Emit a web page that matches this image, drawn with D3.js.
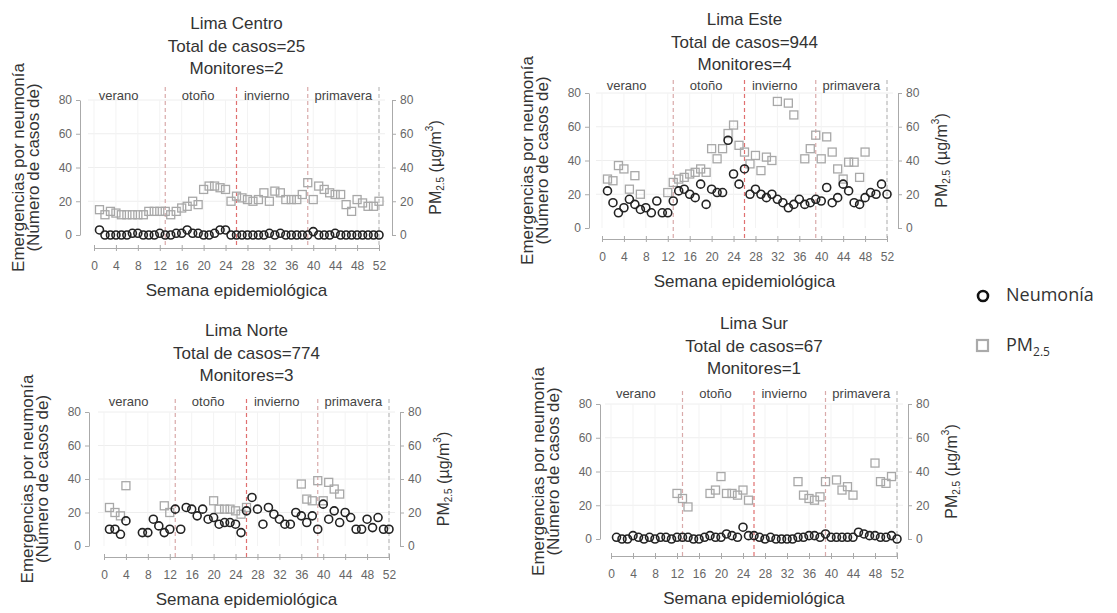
<!DOCTYPE html>
<html lang="es">
<head>
<meta charset="UTF-8">
<script src="https://cdnjs.cloudflare.com/ajax/libs/d3/7.9.0/d3.min.js"></script>
<title>Neumonía y PM2.5 en Lima</title>
<style>
    body { margin: 0; background: #fff; }
    svg { display: block; font-family: "Liberation Sans", Arial, sans-serif; }
    .tick text { fill: #666; font-size: 12px; }
    .domain, .tick line { stroke: #aaa; }
</style>
</head>
<body>
<div id="chart"></div>
<script>
const N = null;

// datos
const regions = ["Lima Centro", "Lima Este", "Lima Norte", "Lima Sur"];
const totals = [25, 944, 774, 67];
const monitors = [2, 4, 3, 1];
const weeks = d3.range(1, 53);
const xTicks = d3.range(0, 53, 4);
const yTicks = [0, 20, 40, 60, 80];
const seasons = ["verano", "otoño", "invierno", "primavera"];
const seasonLabelWeek = [4.5, 19, 31.5, 45.5];
const seasonEnds = [13, 26, 39, 52];

const centroNeumonia = [3,0,0,0,0,0,1,1,0,0, 0,1,0,0,1,1,3,1,1,0, 0,1,3,3,0,0,0,0,0,0,
    0,1,0,1,0,0,0,0,0,2, 0,0,0,1,0,0,0,0,0,0, 0,0];
const centroPM = [15,12,14,13,12,12,12,12,12,14, 14,14,14,12,14,16,17,20,18,27, 29,29,28,27,20,23,22,21,20,21,
    25,20,26,25,21,21,21,24,31,21, 29,27,25,24,24,18,14,21,19,17, 17,20];

const esteNeumonia = [22,15,9,12,17,14,11,12,9,16, 9,9,16,22,23,20,18,26,14,23, 21,21,52,32,26,35,20,23,20,18,
    20,17,15,12,14,17,14,15,17,16, 24,15,18,26,22,15,14,18,21,20, 26,20];
const estePM = [29,28,37,35,23,31,20,N,N,N, N,21,27,29,30,32,33,35,33,47, 41,47,56,61,49,45,38,43,34,42,
    40,75,N,74,67,N,41,47,55,41, 54,45,35,29,39,39,30,45,N,N, N,N];

const norteNeumonia = [10,10,7,15,N,N,8,8,16,12, 8,10,22,10,23,22,18,22,16,17, 13,14,14,13,8,21,29,22,13,23,
    19,16,13,13,20,18,14,18,10,25, 16,21,14,20,17,10,10,16,11,17, 10,10];
const nortePM = [23,20,18,36,N,N,N,N,N,N, 24,20,N,N,N,N,N,N,N,27, 22,22,22,21,19,23,N,N,N,N,
    N,N,N,N,N,37,28,27,39,27, 38,34,31,N,N,N,N,N,N,N, N,N];

const surNeumonia = [1,0,0,2,1,0,1,0,1,1, 0,1,1,1,0,0,1,2,1,1, 3,2,1,7,2,2,1,0,1,0,
    0,0,0,1,1,2,2,1,3,1, 1,1,1,1,4,3,2,2,1,1, 2,0];
const surPM = [N,N,N,N,N,N,N,N,N,N, N,27,24,19,N,N,N,27,29,37, 27,27,26,29,23,N,N,N,N,N,
    N,N,N,34,26,24,23,25,34,N, 35,29,31,26,N,N,N,45,34,33, 37,N];

const neumonia = [centroNeumonia, esteNeumonia, norteNeumonia, surNeumonia];
const pm = [centroPM, estePM, nortePM, surPM];

// posiciones de cada panel
const layout = [
    { x0: 94, x1: 379, yBottom: 235, yTop: 100, axisL: 80, axisR: 392, axisB: 248, titleY: 25, seasonY: 97 },
    { x0: 602, x1: 887, yBottom: 228, yTop: 93, axisL: 589, axisR: 898, axisB: 239, titleY: 21, seasonY: 87 },
    { x0: 104, x1: 389, yBottom: 546, yTop: 412, axisL: 89, axisR: 400, axisB: 557, titleY: 332, seasonY: 403 },
    { x0: 611, x1: 897, yBottom: 539, yTop: 404, axisL: 600, axisR: 908, axisB: 556, titleY: 325, seasonY: 395 }
];
const dashColors = ["#d9aaaa", "#e07070", "#d9aaaa", "#bbb"];

const width = 1117, height = 613;
const svg = d3.select("#chart").append("svg")
    .attr("width", width)
    .attr("height", height);

regions.forEach((name, i) => {
    const L = layout[i];
    const g = svg.append("g");
    const x = d3.scaleLinear().domain([0, 52]).range([L.x0, L.x1]);
    const y = d3.scaleLinear().domain([0, 80]).range([L.yBottom, L.yTop]);

    // grid
    g.selectAll(".hgrid").data(yTicks.slice(1)).enter().append("line")
        .attr("x1", L.x0 - 6).attr("x2", L.x1 + 6)
        .attr("y1", d => y(d)).attr("y2", d => y(d))
        .attr("stroke", "#eee");
    g.selectAll(".vgrid").data(xTicks).enter().append("line")
        .attr("x1", d => x(d)).attr("x2", d => x(d))
        .attr("y1", L.yTop).attr("y2", L.yBottom)
        .attr("stroke", "#f3f3f3");

    // title
    const title = [name, "Total de casos=" + totals[i], "Monitores=" + monitors[i]];
    g.selectAll(".title").data(title).enter().append("text")
        .attr("x", (L.x0 + L.x1) / 2)
        .attr("y", (d, j) => L.titleY + j * 22.5)
        .attr("text-anchor", "middle")
        .attr("dominant-baseline", "middle")
        .attr("font-size", 17)
        .attr("fill", "#333")
        .text(d => d);

    // season separators
    g.selectAll(".sep").data(seasonEnds).enter().append("line")
        .attr("x1", d => x(d)).attr("x2", d => x(d))
        .attr("y1", L.yTop - 13).attr("y2", L.axisB)
        .attr("stroke", (d, j) => dashColors[j])
        .attr("stroke-width", 1.2)
        .attr("stroke-dasharray", "4,3");
    g.selectAll(".season").data(seasons).enter().append("text")
        .attr("x", (d, j) => x(seasonLabelWeek[j]))
        .attr("y", L.seasonY)
        .attr("text-anchor", "middle")
        .attr("dominant-baseline", "middle")
        .attr("font-size", 13)
        .attr("fill", "#444")
        .text(d => d);

    // axes
    g.append("g")
        .attr("transform", `translate(${L.axisL},0)`)
        .call(d3.axisLeft(y).tickValues(yTicks).tickSize(4).tickSizeOuter(0).tickPadding(4));
    g.append("g")
        .attr("transform", `translate(${L.axisR},0)`)
        .call(d3.axisRight(y).tickValues(yTicks).tickSize(4).tickSizeOuter(0).tickPadding(4));
    const xa = g.append("g")
        .attr("transform", `translate(0,${L.axisB})`)
        .call(d3.axisBottom(x).tickValues(xTicks).tickSize(3).tickSizeOuter(0).tickPadding(10));
    xa.selectAll(".tick line").attr("y1", -3);

    // axis titles
    g.append("text")
        .attr("x", (L.x0 + L.x1) / 2)
        .attr("y", L.axisB + 44)
        .attr("text-anchor", "middle")
        .attr("dominant-baseline", "middle")
        .attr("font-size", 17)
        .attr("fill", "#333")
        .text("Semana epidemiológica");

    const cy = (L.yTop + L.yBottom) / 2;
    g.selectAll(".ylab").data(["Emergencias por neumonía", "(Número de casos de)"]).enter().append("text")
        .attr("transform", (d, j) => `translate(${L.axisL - 60 + j * 15},${cy}) rotate(-90)`)
        .attr("text-anchor", "middle")
        .attr("dominant-baseline", "middle")
        .attr("font-size", 17)
        .attr("fill", "#333")
        .text(d => d);

    const rl = g.append("text")
        .attr("transform", `translate(${L.axisR + 45},${cy}) rotate(-90)`)
        .attr("text-anchor", "middle")
        .attr("dominant-baseline", "middle")
        .attr("font-size", 16)
        .attr("fill", "#333");
    rl.append("tspan").text("PM");
    rl.append("tspan").attr("font-size", 10).attr("dy", 4).text("2.5");
    rl.append("tspan").attr("dy", -4).text(" (µg/m");
    rl.append("tspan").attr("font-size", 10).attr("dy", -7).text("3");
    rl.append("tspan").attr("dy", 7).text(")");

    // PM2.5 squares
    const pmData = weeks.map((w, j) => ({ w, v: pm[i][j] })).filter(d => d.v !== null);
    g.selectAll(".pm").data(pmData).enter().append("rect")
        .attr("x", d => x(d.w) - 4)
        .attr("y", d => y(d.v) - 4)
        .attr("width", 8).attr("height", 8)
        .attr("fill", "none")
        .attr("stroke", "#a8a8a8")
        .attr("stroke-width", 1.3);

    // neumonia circles
    const nData = weeks.map((w, j) => ({ w, v: neumonia[i][j] })).filter(d => d.v !== null);
    g.selectAll(".neu").data(nData).enter().append("circle")
        .attr("cx", d => x(d.w))
        .attr("cy", d => y(d.v))
        .attr("r", 4)
        .attr("fill", "none")
        .attr("stroke", "#222")
        .attr("stroke-width", 1.6);
});

// legend
const legend = svg.append("g").attr("font-family", "'Open Sans', sans-serif");
legend.append("circle")
    .attr("cx", 983).attr("cy", 296).attr("r", 5)
    .attr("fill", "none").attr("stroke", "#111").attr("stroke-width", 2.6);
legend.append("text")
    .attr("x", 1006).attr("y", 296)
    .attr("dominant-baseline", "middle")
    .attr("font-size", 18).attr("fill", "#333")
    .text("Neumonía");
legend.append("rect")
    .attr("x", 977).attr("y", 340).attr("width", 11).attr("height", 11)
    .attr("fill", "none").attr("stroke", "#aaa").attr("stroke-width", 2.2);
const pmLeg = legend.append("text")
    .attr("x", 1006).attr("y", 346)
    .attr("dominant-baseline", "middle")
    .attr("font-size", 18).attr("fill", "#333");
pmLeg.append("tspan").text("PM");
pmLeg.append("tspan").attr("font-size", 12).attr("dy", 7).text("2.5");
</script>
</body>
</html>
